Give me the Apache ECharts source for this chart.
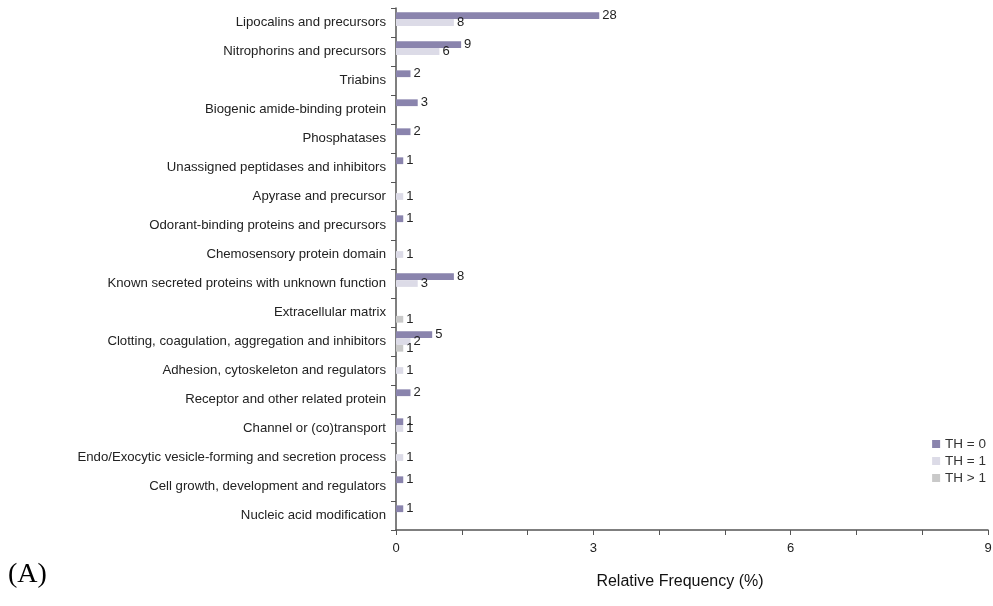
<!DOCTYPE html>
<html>
<head>
<meta charset="utf-8">
<script src="https://cdn.jsdelivr.net/npm/echarts@6/dist/echarts.min.js"></script>
<style>
  html, body { margin: 0; padding: 0; background: #fff; }
  #chart { width: 993px; height: 606px; }
</style>
</head>
<body>
<div id="chart"></div>
<script>
const categories = [
  'Lipocalins and precursors',
  'Nitrophorins and precursors',
  'Triabins',
  'Biogenic amide-binding protein',
  'Phosphatases',
  'Unassigned peptidases and inhibitors',
  'Apyrase and precursor',
  'Odorant-binding proteins and precursors',
  'Chemosensory protein domain',
  'Known secreted proteins with unknown function',
  'Extracellular matrix',
  'Clotting, coagulation, aggregation and inhibitors',
  'Adhesion, cytoskeleton and regulators',
  'Receptor and other related protein',
  'Channel or (co)transport',
  'Endo/Exocytic vesicle-forming and secretion process',
  'Cell growth, development and regulators',
  'Nucleic acid modification'
]

// bar lengths (relative frequency, %)
const th0Pct = [3.09, 0.99, 0.22, 0.33, 0.22, 0.11, null, 0.11, null, 0.88, null, 0.55, null, 0.22, 0.11, null, 0.11, 0.11]
const th1Pct = [0.88, 0.66, null, null, null, null, 0.11, null, 0.11, 0.33, null, 0.22, 0.11, null, 0.11, 0.11, null, null]
const thGt1Pct = [null, null, null, null, null, null, null, null, null, null, 0.11, 0.11, null, null, null, null, null, null]

// counts shown as labels
const th0Count = [28, 9, 2, 3, 2, 1, null, 1, null, 8, null, 5, null, 2, 1, null, 1, 1]
const th1Count = [8, 6, null, null, null, null, 1, null, 1, 3, null, 2, 1, null, 1, 1, null, null]
const thGt1Count = [null, null, null, null, null, null, null, null, null, null, 1, 1, null, null, null, null, null, null]

const xTicks = [0, 3, 6, 9]

const seriesConfig = [
  {name: 'TH = 0', pct: th0Pct, count: th0Count, color: '#8a84ad'},
  {name: 'TH = 1', pct: th1Pct, count: th1Count, color: '#dcdbe7'},
  {name: 'TH > 1', pct: thGt1Pct, count: thGt1Count, color: '#c9c9c9'}
]

const chart = echarts.init(document.getElementById('chart'))

const series = seriesConfig.map(cfg => ({
  name: cfg.name,
  type: 'bar',
  data: cfg.pct.map((v, i) => v == null ? null : {value: v, count: cfg.count[i]}),
  itemStyle: {color: cfg.color},
  barGap: '0%',
  barCategoryGap: '30%',
  label: {
    show: true,
    position: 'right',
    distance: 3,
    fontSize: 13,
    color: '#222',
    fontFamily: 'Liberation Sans',
    formatter: p => p.data && p.data.count != null ? String(p.data.count) : ''
  }
}))

chart.setOption({
  animation: false,
  textStyle: {fontFamily: 'Liberation Sans'},
  grid: {left: 396, right: 5, top: 8, bottom: 76, outerBoundsMode: 'none', containLabel: false},
  legend: {
    orient: 'vertical',
    right: 2,
    top: 432,
    itemWidth: 8,
    itemHeight: 8,
    itemGap: 3,
    icon: 'rect',
    textStyle: {fontSize: 13.5, color: '#333', padding: [0, 0, 0, 0]},
    data: seriesConfig.map(c => c.name)
  },
  xAxis: {
    type: 'value',
    min: 0,
    max: 9,
    interval: 1,
    name: 'Relative Frequency (%)',
    nameLocation: 'middle',
    nameGap: 44,
    nameTextStyle: {fontSize: 16, color: '#111', padding: [0, 24, 0, 0]},
    axisLine: {show: true, lineStyle: {color: '#555', width: 1.5}},
    axisTick: {show: true, length: 5, lineStyle: {color: '#555'}},
    axisLabel: {
      fontSize: 13,
      color: '#222',
      margin: 12,
      formatter: v => xTicks.includes(v) ? String(v) : ''
    },
    splitLine: {show: false}
  },
  yAxis: {
    type: 'category',
    inverse: true,
    data: categories,
    axisLine: {show: true, lineStyle: {color: '#555', width: 1.5}},
    axisTick: {show: true, length: 5, lineStyle: {color: '#555'}},
    axisLabel: {fontSize: 13.2, color: '#222', margin: 10}
  },
  graphic: [{
    type: 'text',
    left: 8,
    top: 561,
    style: {text: '(A)', font: '28px "Liberation Serif"', fill: '#000'}
  }],
  series
})
</script>
</body>
</html>
